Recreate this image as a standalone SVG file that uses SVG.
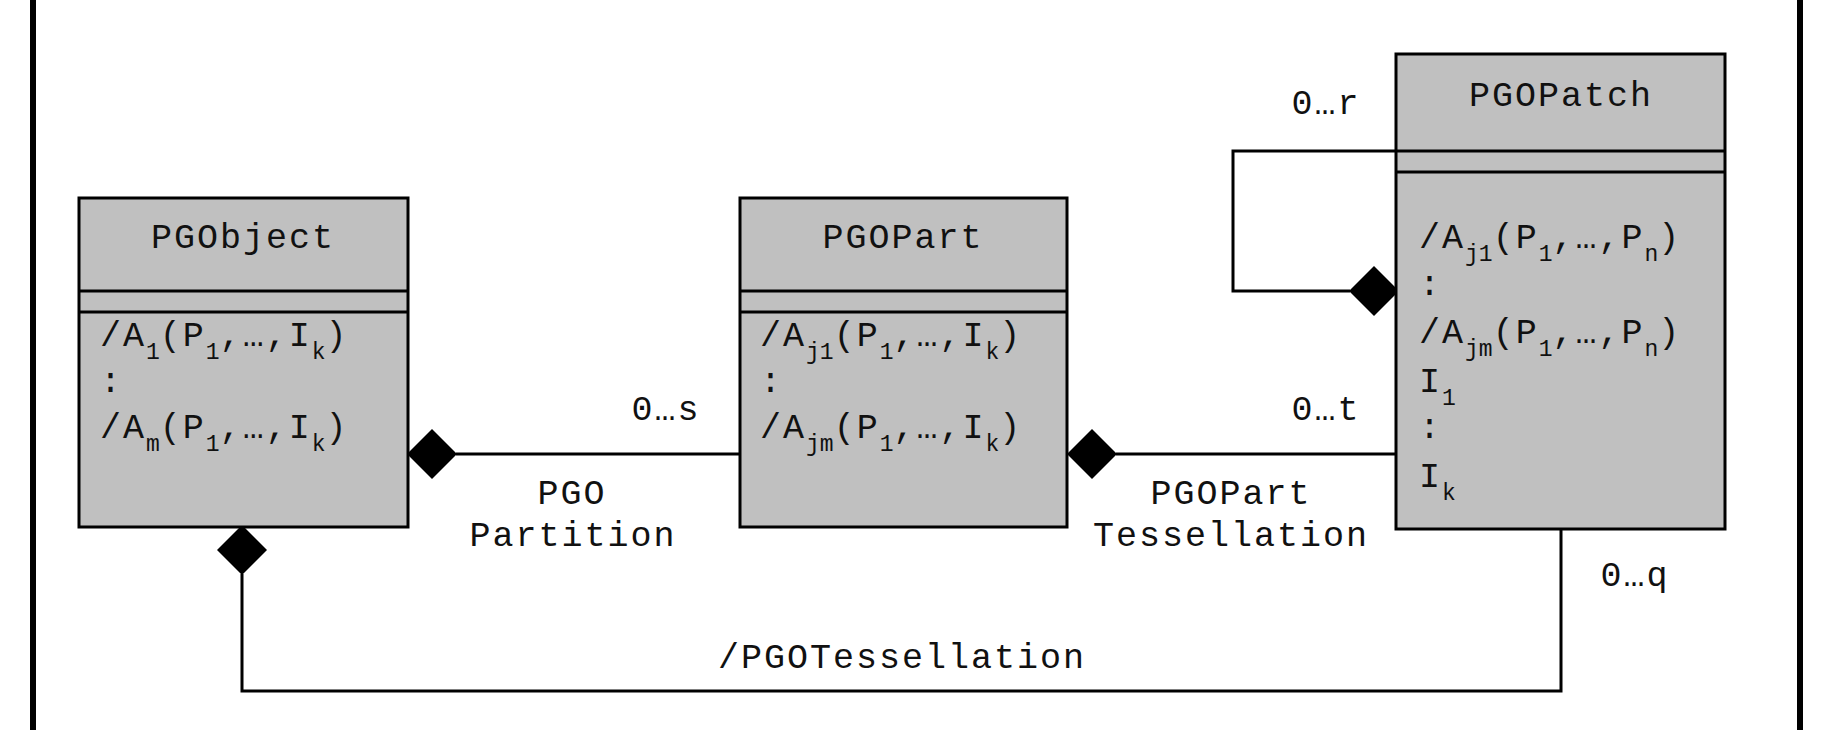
<svg xmlns="http://www.w3.org/2000/svg" width="1827" height="730" viewBox="0 0 1827 730">
<style>
text{font-family:"Liberation Mono","Courier New",monospace;font-size:35px;fill:#111;letter-spacing:2px}
.s{font-size:23px;letter-spacing:0}
.box{fill:#c0c0c0;stroke:#000;stroke-width:3}
.ln{fill:none;stroke:#000;stroke-width:3}
.c{text-anchor:middle}
</style>
<defs><path id="dia" d="M-25 0L0-25L25 0L0 25Z" fill="#000"/></defs>
<rect width="1827" height="730" fill="#fff"/>
<line x1="33" y1="0" x2="33" y2="730" stroke="#000" stroke-width="6"/>
<line x1="1800" y1="0" x2="1800" y2="730" stroke="#000" stroke-width="6"/>
<g id="connectors">
<path class="ln" d="M456 454H740"/>
<use href="#dia" x="432" y="454"/>
<path class="ln" d="M1116 454H1396"/>
<use href="#dia" x="1092" y="454"/>
<path class="ln" d="M1396 151H1233V291H1350"/>
<use href="#dia" x="1374" y="291"/>
<path class="ln" d="M242 574V691H1561V527"/>
<use href="#dia" x="242" y="550"/>
<text x="666" y="420" class="c">0…s</text>
<text x="572" y="504" class="c">PGO</text>
<text x="573" y="546" class="c">Partition</text>
<text x="1326" y="420" class="c">0…t</text>
<text x="1231" y="504" class="c">PGOPart</text>
<text x="1231" y="546" class="c">Tessellation</text>
<text x="1326" y="114" class="c">0…r</text>
<text x="1635" y="586" class="c">0…q</text>
<text x="902" y="668" class="c">/PGOTessellation</text>
</g>
<g id="PGObject">
<rect class="box" x="79" y="198" width="329" height="329"/>
<path class="ln" d="M79 291H408M79 312H408"/>
<text x="243" y="248" class="c">PGObject</text>
<text x="100" y="346">/A<tspan class="s" baseline-shift="sub">1</tspan>(P<tspan class="s" baseline-shift="sub">1</tspan>,…,I<tspan class="s" baseline-shift="sub">k</tspan>)</text>
<text x="100" y="392">:</text>
<text x="100" y="438">/A<tspan class="s" baseline-shift="sub">m</tspan>(P<tspan class="s" baseline-shift="sub">1</tspan>,…,I<tspan class="s" baseline-shift="sub">k</tspan>)</text>
</g>
<g id="PGOPart">
<rect class="box" x="740" y="198" width="327" height="329"/>
<path class="ln" d="M740 291H1067M740 312H1067"/>
<text x="903" y="248" class="c">PGOPart</text>
<text x="760" y="346">/A<tspan class="s" baseline-shift="sub">j1</tspan>(P<tspan class="s" baseline-shift="sub">1</tspan>,…,I<tspan class="s" baseline-shift="sub">k</tspan>)</text>
<text x="760" y="392">:</text>
<text x="760" y="438">/A<tspan class="s" baseline-shift="sub">jm</tspan>(P<tspan class="s" baseline-shift="sub">1</tspan>,…,I<tspan class="s" baseline-shift="sub">k</tspan>)</text>
</g>
<g id="PGOPatch">
<rect class="box" x="1396" y="54" width="329" height="475"/>
<path class="ln" d="M1396 151H1725M1396 172H1725"/>
<text x="1561" y="106" class="c">PGOPatch</text>
<text x="1419" y="248">/A<tspan class="s" baseline-shift="sub">j1</tspan>(P<tspan class="s" baseline-shift="sub">1</tspan>,…,P<tspan class="s" baseline-shift="sub">n</tspan>)</text>
<text x="1419" y="295">:</text>
<text x="1419" y="343">/A<tspan class="s" baseline-shift="sub">jm</tspan>(P<tspan class="s" baseline-shift="sub">1</tspan>,…,P<tspan class="s" baseline-shift="sub">n</tspan>)</text>
<text x="1419" y="392">I<tspan class="s" baseline-shift="sub">1</tspan></text>
<text x="1419" y="438">:</text>
<text x="1419" y="487">I<tspan class="s" baseline-shift="sub">k</tspan></text>
</g>
</svg>
